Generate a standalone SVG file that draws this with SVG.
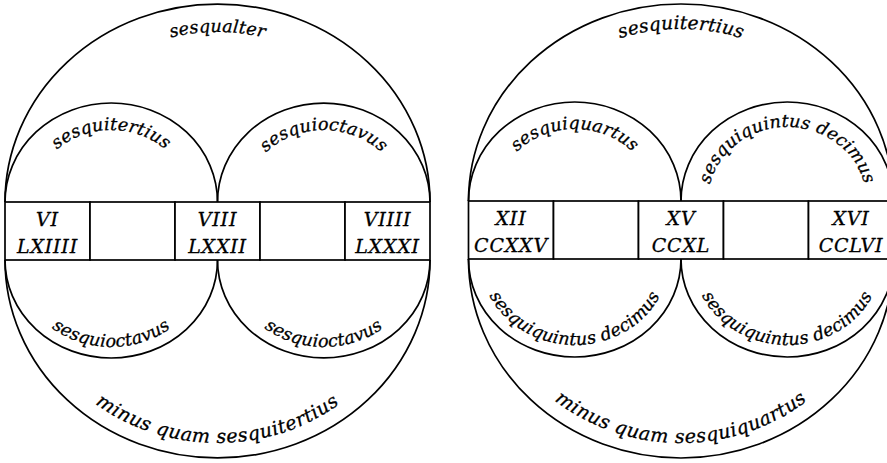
<svg xmlns="http://www.w3.org/2000/svg" width="887" height="463" viewBox="0 0 887 463">
  <style>
    .line { fill: none; stroke: #000; stroke-width: 1.7; }
    .box { fill: #fff; stroke: #000; stroke-width: 1.7; }
    .num, .lbl, .lbl-lg { font-family: "DejaVu Serif", serif; font-style: italic; fill: #000; stroke: #000; stroke-width: 0.3px; text-anchor: middle; }
    .num { font-size: 19px; letter-spacing: 0.8px; }
    .lbl { font-size: 17.5px; letter-spacing: 0.2px; }
    .lbl-lg { font-size: 19px; letter-spacing: 0.5px; }
  </style>
  <defs>
    <!-- baselines for the arc labels (left figure) -->
    <path id="pL-bigTop" d="M33,202 A184.5,170 0 0 1 402,202"/>
    <path id="pL-bigBot" d="M20,260 A197.5,183 0 0 0 415,260"/>
    <path id="pL-topA" d="M32,202 A79.25,72 0 0 1 190.5,202"/>
    <path id="pL-topB" d="M244.5,202 A79.25,72 0 0 1 403,202"/>
    <path id="pL-botA" d="M16,260 A95.25,87 0 0 0 206.5,260"/>
    <path id="pL-botB" d="M228.5,260 A95.25,87 0 0 0 419,260"/>
    <!-- baselines for the arc labels (right figure) -->
    <path id="pR-bigTop" d="M493.5,201 A187.5,172 0 0 1 868.5,201"/>
    <path id="pR-bigBot" d="M483.5,259 A197.5,184 0 0 0 878.5,259"/>
    <path id="pR-topA" d="M495.5,201 A79.25,72 0 0 1 654,201"/>
    <path id="pR-topB" d="M708,201 A79.25,74 0 0 1 866.5,201"/>
    <path id="pR-botA" d="M480.5,259 A94.25,86 0 0 0 669,259"/>
    <path id="pR-botB" d="M693,259 A94.25,86 0 0 0 881.5,259"/>
  </defs>

  <rect width="887" height="463" fill="#fff"/>

  <!-- arcs joining the terms, with their ratio names -->
  <g id="connectors">
    <path class="line" d="M5,202 A212.5,198 0 0 1 430,202"/>
    <path class="line" d="M5,260 A212.5,198 0 0 0 430,260"/>
    <path class="line" d="M5,202 A106.25,99 0 0 1 217.5,202"/>
    <path class="line" d="M217.5,202 A106.25,99 0 0 1 430,202"/>
    <path class="line" d="M5,260 A106.25,98 0 0 0 217.5,260"/>
    <path class="line" d="M217.5,260 A106.25,98 0 0 0 430,260"/>

    <path class="line" d="M468.5,201 A212.5,197 0 0 1 893.5,201"/>
    <path class="line" d="M468.5,259 A212.5,199 0 0 0 893.5,259"/>
    <path class="line" d="M468.5,201 A106.25,99 0 0 1 681,201"/>
    <path class="line" d="M681,201 A106.25,99 0 0 1 893.5,201"/>
    <path class="line" d="M468.5,259 A106.25,98 0 0 0 681,259"/>
    <path class="line" d="M681,259 A106.25,98 0 0 0 893.5,259"/>

    <text class="lbl"><textPath href="#pL-bigTop" startOffset="50%">sesqualter</textPath></text>
    <text class="lbl-lg"><textPath href="#pL-bigBot" startOffset="50%">minus quam sesquitertius</textPath></text>
    <text class="lbl"><textPath href="#pL-topA" startOffset="50%">sesquitertius</textPath></text>
    <text class="lbl"><textPath href="#pL-topB" startOffset="50%">sesquioctavus</textPath></text>
    <text class="lbl"><textPath href="#pL-botA" startOffset="50%">sesquioctavus</textPath></text>
    <text class="lbl"><textPath href="#pL-botB" startOffset="50%">sesquioctavus</textPath></text>

    <text class="lbl" style="font-size:18.5px"><textPath href="#pR-bigTop" startOffset="50%">sesquitertius</textPath></text>
    <text class="lbl-lg"><textPath href="#pR-bigBot" startOffset="50%">minus quam sesquiquartus</textPath></text>
    <text class="lbl"><textPath href="#pR-topA" startOffset="50%">sesquiquartus</textPath></text>
    <text class="lbl"><textPath href="#pR-topB" startOffset="50%">sesquiquintus decimus</textPath></text>
    <text class="lbl"><textPath href="#pR-botA" startOffset="50%">sesquiquintus decimus</textPath></text>
    <text class="lbl"><textPath href="#pR-botB" startOffset="50%">sesquiquintus decimus</textPath></text>
  </g>

  <!-- left row of terms -->
  <g id="L1"><rect class="box" x="5" y="202" width="85" height="58"/>
    <text class="num" x="47.5" y="226">VI</text><text class="num" x="47.5" y="253">LXIIII</text></g>
  <g id="L2"><rect class="box" x="90" y="202" width="85" height="58"/></g>
  <g id="L3"><rect class="box" x="175" y="202" width="85" height="58"/>
    <text class="num" x="217.5" y="226">VIII</text><text class="num" x="217.5" y="253">LXXII</text></g>
  <g id="L4"><rect class="box" x="260" y="202" width="85" height="58"/></g>
  <g id="L5"><rect class="box" x="345" y="202" width="85" height="58"/>
    <text class="num" x="387.5" y="226">VIIII</text><text class="num" x="387.5" y="253">LXXXI</text></g>

  <!-- right row of terms -->
  <g id="R1"><rect class="box" x="468.5" y="201" width="85" height="58"/>
    <text class="num" x="511" y="225">XII</text><text class="num" x="511" y="252">CCXXV</text></g>
  <g id="R2"><rect class="box" x="553.5" y="201" width="85" height="58"/></g>
  <g id="R3"><rect class="box" x="638.5" y="201" width="85" height="58"/>
    <text class="num" x="681" y="225">XV</text><text class="num" x="681" y="252">CCXL</text></g>
  <g id="R4"><rect class="box" x="723.5" y="201" width="85" height="58"/></g>
  <g id="R5"><rect class="box" x="808.5" y="201" width="85" height="58"/>
    <text class="num" x="851" y="225">XVI</text><text class="num" x="851" y="252">CCLVI</text></g>
</svg>
